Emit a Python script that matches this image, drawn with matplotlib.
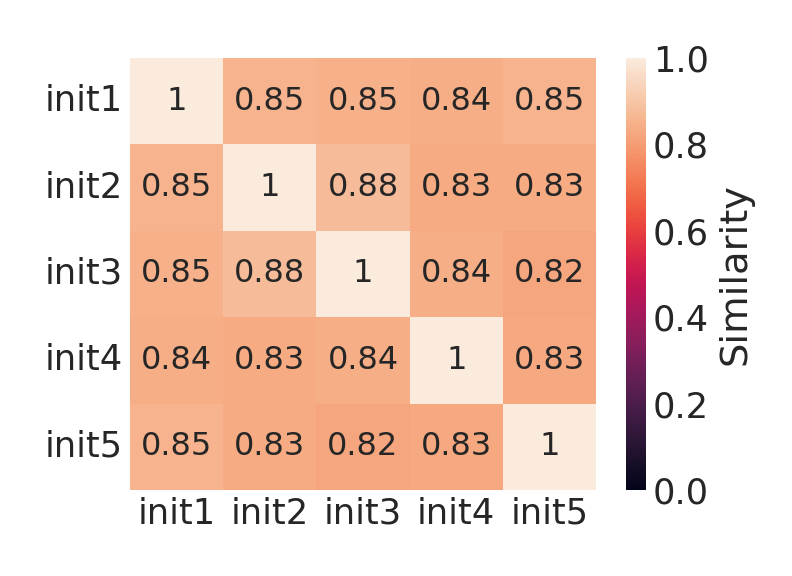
import numpy as np
import matplotlib
matplotlib.use("Agg")
import matplotlib.pyplot as plt
import seaborn as sns

labels = ["init1", "init2", "init3", "init4", "init5"]
sim = np.array([
    [1.00, 0.852, 0.851, 0.843, 0.853],
    [0.852, 1.00, 0.878, 0.833, 0.834],
    [0.851, 0.878, 1.00, 0.841, 0.823],
    [0.843, 0.833, 0.841, 1.00, 0.832],
    [0.853, 0.834, 0.823, 0.832, 1.00],
])

sns.set(font_scale=1.6)
W, H = 792, 576
fig = plt.figure(figsize=(5.5, 4), dpi=144)
ax = fig.add_axes([130 / W, 86 / H, 466 / W, 432 / H])
cax = fig.add_axes([626 / W, 86 / H, 20 / W, 432 / H])
sns.heatmap(sim, annot=True, vmin=0, vmax=1, ax=ax, cbar_ax=cax,
            xticklabels=labels, yticklabels=labels,
            annot_kws={"size": 16},
            cbar_kws={"label": "Similarity"})
ax.tick_params(axis="y", rotation=0, length=0)
ax.tick_params(axis="x", length=0)
cax.tick_params(length=0)
plt.savefig("out.png", dpi=144)
